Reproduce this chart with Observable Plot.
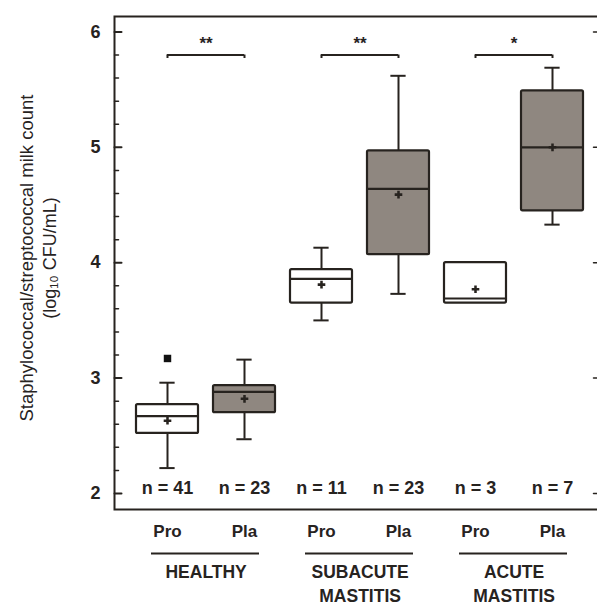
<!DOCTYPE html>
<html><head><meta charset="utf-8">
<script src="https://cdn.jsdelivr.net/npm/d3@7"></script>
<script src="https://cdn.jsdelivr.net/npm/@observablehq/plot@0.6"></script>
<style>html,body{margin:0;padding:0;background:#fff;overflow:hidden}</style>
</head><body><div id="chart"></div>
<script>
// ---- data ----
const keys = ["H-Pro","H-Pla","S-Pro","S-Pla","A-Pro","A-Pla"];
const treatments = ["Pro","Pla","Pro","Pla","Pro","Pla"];
const nCounts = [41,23,11,23,3,7];
const whiskerLow  = [2.22,2.47,3.50,3.73,null,4.33];
const q1          = [2.52,2.70,3.65,4.07,3.65,4.45];
const median      = [2.67,2.88,3.86,4.64,3.69,5.00];
const q3          = [2.77,2.935,3.94,4.97,4.00,5.49];
const whiskerHigh = [2.96,3.16,4.13,5.62,null,5.69];
const means       = [2.63,2.82,3.81,4.59,3.77,5.00];
const outlierKeys = ["H-Pro"];
const outlierValues = [3.17];
const groups = ["HEALTHY","SUBACUTE\nMASTITIS","ACUTE\nMASTITIS"];
const groupFirst = ["H-Pro","S-Pro","A-Pro"];
const groupLast  = ["H-Pla","S-Pla","A-Pla"];
const stars = ["**","**","*"];
const bracketLevel = 5.80;
const yMajor = [2,3,4,5,6];
const yMinor = [2.2,2.4,2.6,2.8,3.2,3.4,3.6,3.8,4.2,4.4,4.6,4.8,5.2,5.4,5.6,5.8];
const yTitle = ["Staphylococcal/streptococcal milk count","(log\u2081\u2080 CFU/mL)"];

// ---- styling ----
const ink = "#27231f";
const boxGray = "#8f8780";
const font = "'Liberation Sans',Arial,sans-serif";
const yDomain = [1.861, 6.134];
const W = 600, H = 609, ML = 114, MR = 1, MT = 16, MB = 100;
const insetL = 14, insetR = 7.8;
const step = (W - ML - MR - insetL - insetR) / keys.length;
const bw = step * 0.8;

const idx = d3.range(keys.length);
const gIdx = d3.range(groups.length);
const wIdx = idx.filter(i => whiskerLow[i] != null);
const oIdx = d3.range(outlierKeys.length);
const tickShape = {draw(ctx, l) { ctx.moveTo(0, 0); ctx.lineTo(0, -l); }};

const chart = Plot.plot({
  width: W, height: H,
  marginLeft: ML, marginRight: MR, marginTop: MT, marginBottom: MB,
  style: {fontFamily: font, color: ink, background: "#fff", maxWidth: "none", overflow: "hidden"},
  x: {domain: keys, paddingInner: 0.2, paddingOuter: 0.1, insetLeft: insetL, insetRight: insetR, axis: null},
  y: {domain: yDomain, axis: null},
  marks: [
    // frame
    Plot.frame({stroke: ink, strokeWidth: 2}),
    // y ticks (inward) and labels
    Plot.vector(yMajor, {y: d => d, frameAnchor: "left", rotate: 90, length: 7, anchor: "start", shape: tickShape, stroke: ink, strokeWidth: 2}),
    Plot.vector(yMinor, {y: d => d, frameAnchor: "left", rotate: 90, length: 4, anchor: "start", shape: tickShape, stroke: ink, strokeWidth: 1.5}),
    Plot.vector(yMajor, {y: d => d, frameAnchor: "right", rotate: -90, length: 6, anchor: "start", shape: tickShape, stroke: ink, strokeWidth: 1.5}),
    Plot.text(yMajor, {y: d => d, text: d => String(d), frameAnchor: "left", dx: -19, textAnchor: "middle", fontSize: 18, fontWeight: "bold", fill: ink}),
    // y title
    Plot.text([yTitle[0]], {text: d => d, frameAnchor: "left", textAnchor: "middle", dx: -87, dy: -5, rotate: -90, fontSize: 18.5, fill: ink}),
    Plot.text([yTitle[1]], {text: d => d, frameAnchor: "left", textAnchor: "middle", dx: -64, dy: -5, rotate: -90, fontSize: 18, fill: ink}),
    // whiskers
    Plot.ruleX(wIdx, {x: i => keys[i], y1: i => whiskerLow[i], y2: i => whiskerHigh[i], stroke: ink, strokeWidth: 2}),
    Plot.tickY(wIdx, {x: i => keys[i], y: i => whiskerLow[i], insetLeft: (bw - 15) / 2, insetRight: (bw - 15) / 2, stroke: ink, strokeWidth: 2}),
    Plot.tickY(wIdx, {x: i => keys[i], y: i => whiskerHigh[i], insetLeft: (bw - 15) / 2, insetRight: (bw - 15) / 2, stroke: ink, strokeWidth: 2}),
    // boxes
    Plot.barY(idx, {x: i => keys[i], y1: i => q1[i], y2: i => q3[i], fill: i => treatments[i] === "Pla" ? boxGray : "#fff", stroke: ink, strokeWidth: 2.2, rx: 1.5}),
    Plot.tickY(idx, {x: i => keys[i], y: i => median[i], stroke: ink, strokeWidth: 2.2}),
    Plot.dot(idx, {x: i => keys[i], y: i => means[i], symbol: "cross", r: 3.2, fill: ink, stroke: null}),
    // outlier
    Plot.dot(oIdx, {x: i => outlierKeys[i], y: i => outlierValues[i], symbol: "square", r: 4.2, fill: "#111", stroke: null}),
    // significance brackets
    Plot.ruleY(gIdx, {x1: i => groupFirst[i], x2: i => groupLast[i], y: () => bracketLevel, insetLeft: bw / 2, insetRight: bw / 2, stroke: ink, strokeWidth: 2}),
    Plot.ruleX(gIdx.flatMap(i => [groupFirst[i], groupLast[i]]), {x: d => d, y1: () => bracketLevel, y2: () => bracketLevel - 0.03, stroke: ink, strokeWidth: 2}),
    Plot.text(gIdx, {x: i => groupFirst[i], y: () => bracketLevel, dx: step / 2, dy: -11, text: i => stars[i], fontSize: 17, fontWeight: "bold", fill: ink}),
    // n labels
    Plot.text(idx, {x: i => keys[i], text: i => "n = " + nCounts[i], frameAnchor: "bottom", dy: -16, fontSize: 18, fontWeight: "bold", fill: ink}),
    // treatment labels under axis
    Plot.text(idx, {x: i => keys[i], text: i => treatments[i], frameAnchor: "bottom", dy: 27, fontSize: 17, fontWeight: "bold", fill: ink}),
    Plot.ruleY(gIdx, {x1: i => groupFirst[i], x2: i => groupLast[i], y: () => yDomain[0], dy: 44, insetLeft: 15, insetRight: 16, stroke: ink, strokeWidth: 2}),
    Plot.text(gIdx, {x: i => groupFirst[i], text: i => groups[i], dx: step / 2, frameAnchor: "bottom", dy: 52, lineAnchor: "top", lineHeight: 1.36, fontSize: 17.5, fontWeight: "bold", fill: ink})
  ]
});
document.getElementById("chart").append(chart);
</script>
</body></html>
